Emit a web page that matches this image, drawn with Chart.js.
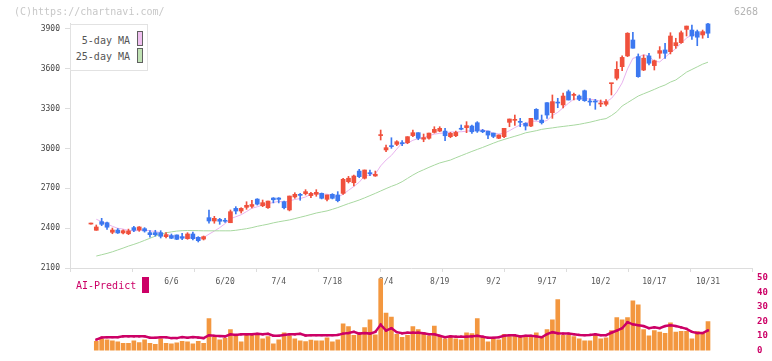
<!DOCTYPE html>
<html><head><meta charset="utf-8">
<script src="https://cdn.jsdelivr.net/npm/chart.js@4.4.1/dist/chart.umd.min.js"></script>
<style>
html,body{margin:0;padding:0;background:#fff;}
#wrap{position:relative;width:772px;height:361px;overflow:hidden;font-family:"DejaVu Sans Mono",monospace;}
canvas{position:absolute;left:0;top:0;}
.t{position:absolute;white-space:nowrap;font-size:10px;line-height:12px;font-family:"DejaVu Sans Mono",monospace;}
#lg{position:absolute;left:70px;top:24px;width:76px;height:45px;border:1px solid #e2e2e2;background:#fff;}
.sw{position:absolute;width:4px;height:13px;border:1px solid #606060;}
</style></head><body>
<div id="wrap">
<canvas id="price" width="772" height="361"></canvas>
<canvas id="vol" width="772" height="361"></canvas>
<div class="t" style="left:14px;top:6px;color:#c8c8c8">(C)https://chartnavi.com/</div>
<div class="t" style="left:734px;top:6px;color:#b4b4b4">6268</div>
<div id="lg">
  <div class="t" style="left:0;width:59px;text-align:right;top:10px;color:#555">5-day MA</div>
  <div class="sw" style="left:66px;top:6px;background:#f0c0f0"></div>
  <div class="t" style="left:0;width:59px;text-align:right;top:26px;color:#555">25-day MA</div>
  <div class="sw" style="left:66px;top:23px;background:#c0e2b4"></div>
</div>
<div class="t" style="left:76px;top:280px;color:#cc0066">AI-Predict</div>
<div style="position:absolute;left:142px;top:277px;width:7px;height:16px;background:#cc0066"></div>
</div>
<script>
const dates = ['5/16','5/19','5/20','5/21','5/22','5/23','5/26','5/27','5/28','5/29','5/30',
'6/2','6/3','6/4','6/5','6/6','6/9','6/10','6/11','6/12','6/13','6/16','6/17','6/18','6/19','6/20','6/23','6/24','6/25','6/26','6/27','6/30',
'7/1','7/2','7/3','7/4','7/7','7/8','7/9','7/10','7/11','7/14','7/15','7/16','7/17','7/18','7/22','7/23','7/24','7/25','7/28','7/29','7/30','7/31',
'8/1','8/4','8/5','8/6','8/7','8/8','8/12','8/13','8/14','8/15','8/18','8/19','8/20','8/21','8/22','8/25','8/26','8/27','8/28','8/29',
'9/1','9/2','9/3','9/4','9/5','9/8','9/9','9/10','9/11','9/12','9/16','9/17','9/18','9/19','9/22','9/24','9/25','9/26','9/29','9/30',
'10/1','10/2','10/3','10/6','10/7','10/8','10/9','10/10','10/14','10/15','10/16','10/17','10/20','10/21','10/22','10/23','10/24','10/27','10/28','10/29','10/30','10/31'];
const tickLabels = ['6/6','6/20','7/4','7/18','8/4','8/19','9/2','9/17','10/2','10/17','10/31'];
const priceTicks = [2100,2400,2700,3000,3300,3600,3900];
const volTicks = [0,10,20,30,40,50];

const open = [2431,2384,2449,2441,2369,2386,2364,2358,2404,2386,
2396,2366,2366,2366,2336,2344,2349,2336,2321,2356,
2331,2318,2479,2454,2466,2459,2441,2549,2529,2557,
2564,2619,2569,2554,2627,2627,2599,2537,2635,2655,
2660,2645,2655,2662,2617,2655,2650,2662,2750,2742,
2830,2776,2818,2793,3097,2989,3021,3031,3044,3044,
3097,3119,3070,3077,3121,3131,3131,3089,3096,3152,
3157,3169,3194,3136,3131,3116,3077,3089,3197,3212,
3204,3189,3169,3295,3214,3345,3270,3348,3328,3428,
3400,3395,3435,3356,3356,3335,3333,3488,3529,3616,
3697,3817,3692,3591,3697,3624,3717,3742,3729,3774,
3797,3897,3892,3880,3855,3938];
const high = [2431,2424,2474,2445,2401,2397,2388,2393,2414,2412,
2404,2381,2384,2381,2366,2356,2349,2361,2366,2371,
2336,2341,2537,2489,2474,2474,2537,2562,2554,2599,
2610,2622,2612,2604,2630,2630,2604,2642,2667,2662,
2690,2670,2690,2665,2650,2660,2675,2776,2790,2800,
2843,2838,2838,2830,3139,3026,3081,3059,3059,3089,
3139,3119,3109,3116,3164,3164,3152,3121,3131,3177,
3202,3177,3202,3144,3131,3116,3102,3152,3222,3252,
3227,3194,3227,3300,3252,3345,3403,3378,3418,3440,
3418,3403,3440,3375,3370,3365,3368,3491,3654,3697,
3872,3875,3712,3704,3717,3666,3767,3792,3872,3830,
3885,3922,3930,3892,3892,3943];
const low = [2431,2384,2419,2391,2358,2360,2357,2351,2374,2376,
2370,2333,2340,2326,2326,2321,2314,2314,2316,2311,
2296,2311,2437,2437,2429,2444,2441,2507,2514,2542,
2552,2574,2562,2549,2590,2590,2545,2530,2625,2610,
2650,2630,2640,2620,2605,2620,2598,2655,2740,2718,
2780,2770,2795,2790,3064,2976,3001,3021,3021,3036,
3089,3066,3051,3070,3116,3126,3059,3081,3089,3140,
3119,3114,3121,3119,3074,3081,3074,3081,3164,3174,
3164,3139,3164,3214,3184,3227,3227,3307,3305,3365,
3365,3360,3355,3325,3295,3315,3320,3403,3516,3586,
3692,3755,3536,3586,3629,3591,3679,3679,3712,3754,
3792,3847,3822,3774,3830,3834];
const close = [2431,2409,2429,2407,2386,2364,2381,2379,2384,2409,
2379,2351,2351,2339,2351,2324,2316,2324,2356,2321,
2306,2336,2454,2474,2452,2452,2524,2529,2549,2572,
2578,2581,2592,2604,2614,2617,2554,2642,2655,2647,
2675,2662,2670,2625,2650,2625,2607,2768,2776,2793,
2788,2838,2810,2806,3104,3006,3014,3051,3036,3089,
3119,3077,3082,3116,3144,3152,3096,3114,3121,3145,
3172,3126,3131,3126,3101,3091,3102,3152,3222,3219,
3197,3169,3227,3220,3194,3252,3353,3342,3395,3365,
3405,3370,3360,3350,3350,3342,3353,3491,3596,3686,
3868,3755,3541,3680,3642,3661,3737,3717,3847,3797,
3872,3922,3847,3838,3880,3868];
const ma5 = [null,2467,2449,2432,2414,2399,2393,2383,2379,2383,
2386,2380,2375,2366,2354,2343,2336,2331,2334,2328,
2325,2329,2355,2378,2404,2434,2471,2486,2501,2525,
2550,2561,2574,2585,2593,2602,2596,2606,2616,2623,
2635,2656,2662,2656,2656,2646,2635,2655,2685,2714,
2746,2793,2801,2807,2869,2913,2948,2996,3042,3039,
3062,3074,3081,3097,3108,3114,3118,3124,3125,3126,
3130,3136,3139,3140,3131,3115,3110,3114,3134,3157,
3178,3191,3206,3205,3200,3211,3249,3272,3307,3341,
3372,3375,3379,3370,3367,3354,3351,3377,3426,3494,
3599,3679,3689,3706,3697,3656,3652,3687,3721,3752,
3794,3831,3857,3855,3872,3871];
const ma25 = [null,2190,2200,2210,2222,2236,2250,2265,2278,2292,
2308,2324,2340,2355,2365,2372,2378,2381,2382,2382,
2381,2380,2380,2380,2380,2380,2380,2384,2390,2396,
2404,2414,2422,2430,2440,2448,2455,2462,2472,2482,
2492,2503,2514,2522,2530,2542,2555,2570,2585,2598,
2612,2628,2645,2662,2680,2698,2715,2730,2750,2775,
2800,2822,2840,2858,2875,2891,2902,2913,2930,2946,
2962,2978,2993,3008,3024,3040,3055,3068,3080,3092,
3104,3118,3126,3134,3144,3150,3155,3161,3166,3171,
3176,3182,3190,3198,3208,3218,3225,3248,3277,3320,
3345,3370,3395,3412,3428,3445,3463,3478,3500,3516,
3545,3575,3595,3615,3635,3650];
const volume = [null,6.4,8.1,7.5,6.7,6.0,5.0,5.0,6.7,5.6,
7.5,5.0,4.4,8.1,5.0,4.6,5.4,6.4,6.0,4.6,
6.4,5.0,22.1,9.2,7.5,8.5,14.4,10.2,6.0,10.6,
10.6,10.6,8.1,9.6,4.6,7.5,12.3,10.2,8.1,6.7,
6.2,7.3,6.7,6.7,8.8,6.0,7.5,18.5,16.5,10.6,
12.3,15.8,21.2,10.8,49.4,25.8,23.1,11.2,9.2,10.6,
16.5,14.4,12.3,10.2,16.9,10.2,8.1,9.2,8.1,7.5,
12.3,11.7,22.1,9.2,6.0,8.1,7.5,11.2,9.6,10.6,
9.8,9.6,9.6,12.3,9.2,14.4,21.2,35.2,10.6,10.6,
9.6,8.1,6.7,6.7,10.6,8.1,8.8,13.8,22.7,21.2,
22.7,34.2,31.5,14.4,10.2,13.8,12.7,11.9,19.2,12.7,
13.3,13.3,8.1,13.1,11.9,20.0];
const aiPredict = [null,7.5,9.0,9.2,9.2,9.2,9.8,9.8,9.8,9.8,
9.8,8.8,8.8,9.2,9.2,8.6,8.6,9.3,8.8,9.3,
9.0,8.6,10.6,10.2,10.0,9.8,11.2,10.8,11.2,11.2,
11.2,11.6,11.2,11.6,10.2,10.2,10.8,11.2,11.2,11.6,
10.4,10.6,10.6,10.6,10.6,10.6,10.8,11.7,12.1,12.9,
11.7,12.1,11.7,12.9,17.9,13.8,15.4,12.7,11.9,12.3,
12.3,12.3,11.9,11.3,11.3,10.2,9.2,9.8,9.6,9.6,
9.6,9.8,10.2,9.6,8.8,8.8,9.2,10.2,10.6,10.6,
9.8,10.2,10.2,9.8,9.2,11.3,12.7,11.9,11.7,11.7,
11.3,10.8,10.6,10.8,11.3,10.6,10.6,12.3,13.8,15.4,
19.6,18.1,17.5,16.9,15.4,16.0,15.4,16.9,17.5,16.9,
16.0,15.0,12.9,12.1,12.1,13.9];

const X_MIN = -3.9, X_MAX = 123.2;
const RED = '#f0503c', BLUE = '#3c78f0';
const FONT = '"DejaVu Sans Mono", monospace';
const isUp = i => close[i] >= open[i];
const candleColor = ctx => isUp(ctx.dataIndex) ? RED : BLUE;
const pts = arr => arr.map((v, i) => ({x: i, y: v}));
const labelIdx = tickLabels.map(l => dates.indexOf(l));

new Chart(document.getElementById('price'), {
  type: 'bar',
  data: { datasets: [
    { type: 'line', label: '5-day MA', data: pts(ma5), xAxisID: 'x', yAxisID: 'y',
      borderColor: '#e8b2ee', borderWidth: 1, pointRadius: 0, tension: 0, order: 4 },
    { type: 'line', label: '25-day MA', data: pts(ma25), xAxisID: 'x', yAxisID: 'y',
      borderColor: '#a8d8a0', borderWidth: 1, pointRadius: 0, tension: 0, order: 3 },
    { label: 'wick', data: dates.map((d, i) => ({x: i, y: [low[i], high[i]]})), xAxisID: 'x', yAxisID: 'y',
      backgroundColor: candleColor, barThickness: 1, minBarLength: 1, grouped: false, order: 2 },
    { label: 'body', data: dates.map((d, i) => ({x: i, y: [open[i], close[i]]})), xAxisID: 'x', yAxisID: 'y',
      backgroundColor: candleColor, barThickness: 4, minBarLength: 1, grouped: false, order: 1 }
  ]},
  options: {
    responsive: false, animation: false, events: [],
    layout: { padding: { top: 23, right: 20, left: 0, bottom: 0 } },
    plugins: { legend: { display: false }, tooltip: { enabled: false } },
    scales: {
      x: { type: 'linear', min: X_MIN, max: X_MAX, position: 'bottom', weight: 0, offset: false,
        ticks: { display: false },
        grid: { drawOnChartArea: false, tickLength: 4, color: '#dddddd', offset: false },
        border: { color: '#dddddd' },
        afterBuildTicks: s => { s.ticks = Array.from({length: 12}, (_, k) => ({ value: X_MIN + k * (X_MAX - X_MIN) / 11 })); },
        afterFit: s => { s.height = 6; } },
      xl: { type: 'linear', min: X_MIN, max: X_MAX, position: 'bottom', weight: 1, offset: false,
        grid: { display: false, drawTicks: false, offset: false }, border: { display: false },
        ticks: { autoSkip: false, maxRotation: 0, padding: 3, color: '#555', font: { family: FONT, size: 8 },
          callback: v => dates[v] },
        afterBuildTicks: s => { s.ticks = labelIdx.map(v => ({ value: v })); },
        afterFit: s => { s.height = 87; } },
      y: { type: 'linear', min: 2100, max: 3945, position: 'left',
        grid: { drawOnChartArea: false, tickLength: 5, color: '#dddddd' },
        border: { color: '#dddddd' },
        ticks: { padding: 5, color: '#444', font: { family: FONT, size: 8 }, callback: v => String(v) },
        afterBuildTicks: s => { s.ticks = priceTicks.map(v => ({ value: v })); },
        afterFit: s => { s.width = 70; } }
    }
  }
});

new Chart(document.getElementById('vol'), {
  type: 'bar',
  data: { datasets: [
    { type: 'line', label: 'AI-Predict', data: pts(aiPredict), borderColor: '#cc0066', borderWidth: 2.5,
      pointStyle: 'rect', pointRadius: 1.6, pointBackgroundColor: '#cc0066', pointBorderWidth: 0,
      tension: 0, order: 1 },
    { label: 'volume', data: pts(volume), backgroundColor: '#f3973f', barThickness: 4, order: 2 }
  ]},
  options: {
    responsive: false, animation: false, events: [],
    layout: { padding: { top: 278, right: 0, left: 70, bottom: 3 } },
    plugins: { legend: { display: false }, tooltip: { enabled: false } },
    scales: {
      x: { type: 'linear', min: X_MIN, max: X_MAX, display: false, offset: false, grid: { offset: false } },
      y: { type: 'linear', min: 0, max: 50, position: 'right',
        grid: { display: false, drawTicks: false }, border: { display: false },
        ticks: { padding: 5, color: '#cc0066', font: { family: FONT, size: 9, weight: 'bold' } },
        afterBuildTicks: s => { s.ticks = volTicks.map(v => ({ value: v })); },
        afterFit: s => { s.width = 20; } }
    }
  }
});
</script>
</body></html>
